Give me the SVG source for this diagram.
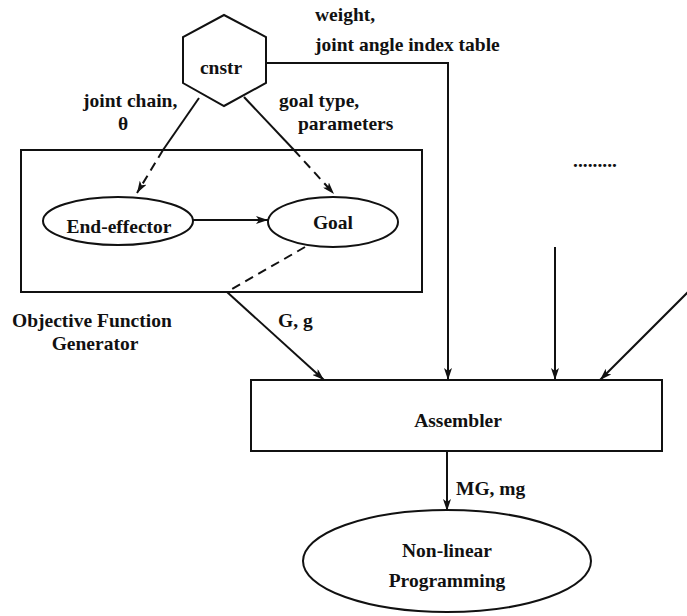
<svg xmlns="http://www.w3.org/2000/svg" width="687" height="616" viewBox="0 0 687 616">
<style>
text{font-family:"Liberation Serif","Times New Roman",serif;font-weight:bold;font-size:19.5px;fill:#111}
.c{text-anchor:middle}
.s{fill:none;stroke:#111;stroke-width:2}
.d{stroke-dasharray:9 6}
</style>
<defs>
<marker id="ah" viewBox="0 0 12 8" refX="12" refY="4" markerWidth="12" markerHeight="8" markerUnits="userSpaceOnUse" orient="auto">
<path d="M0,0 L12,4 L0,8 L3,4 Z" fill="#111"/>
</marker>
</defs>
<rect width="687" height="616" fill="#fff"/>
<g id="ofg">
<rect class="s" x="21" y="150" width="401" height="142"/>
<text x="12" y="327">Objective Function</text>
<text class="c" x="95" y="350">Generator</text>
</g>
<g id="cnstr">
<polygon class="s" points="224,15 266,37 266,83 224,106 183,83 183,37"/>
<text class="c" x="221" y="74">cnstr</text>
</g>
<g id="endeffector">
<ellipse class="s" cx="118" cy="221" rx="75" ry="24"/>
<text class="c" x="119" y="233">End-effector</text>
</g>
<g id="goal">
<ellipse class="s" cx="333" cy="222" rx="65" ry="25"/>
<text class="c" x="333" y="229">Goal</text>
</g>
<g id="assembler">
<rect class="s" x="251" y="380" width="411" height="71"/>
<text class="c" x="458" y="427">Assembler</text>
</g>
<g id="nlp">
<ellipse class="s" cx="447" cy="561" rx="144" ry="51"/>
<text class="c" x="447" y="557">Non-linear</text>
<text class="c" x="447" y="587">Programming</text>
</g>
<g id="connectors">
<polyline class="s" points="199,98 163,150"/>
<line class="s d" x1="163" y1="150" x2="137" y2="193" marker-end="url(#ah)"/>
<polyline class="s" points="244,97 294,150"/>
<line class="s d" x1="294" y1="150" x2="334" y2="194" marker-end="url(#ah)"/>
<line class="s" x1="193" y1="220" x2="268" y2="220" marker-end="url(#ah)"/>
<line class="s d" x1="305" y1="247" x2="227" y2="292"/>
<line class="s" x1="227" y1="292" x2="324" y2="380" marker-end="url(#ah)"/>
<polyline class="s" points="266,63 448,63 448,380" marker-end="url(#ah)"/>
<line class="s" x1="555" y1="247" x2="555" y2="380" marker-end="url(#ah)"/>
<line class="s" x1="689" y1="291" x2="600" y2="380" marker-end="url(#ah)"/>
<line class="s" x1="447" y1="451" x2="447" y2="511" marker-end="url(#ah)"/>
</g>
<g id="labels">
<text x="315" y="21">weight,</text>
<text x="315" y="51">joint angle index table</text>
<text x="83" y="107">joint chain,</text>
<text x="118" y="130">θ</text>
<text x="279" y="107">goal type,</text>
<text x="298" y="130">parameters</text>
<text x="278" y="327">G, g</text>
<text x="456" y="495">MG, mg</text>
<text x="573" y="167">.........</text>
</g>
</svg>
